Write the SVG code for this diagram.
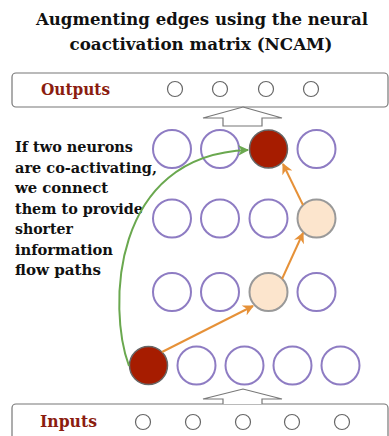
<svg xmlns="http://www.w3.org/2000/svg" width="389" height="436" viewBox="0 0 389 436">
<defs>
<style>
.title{font-family:"DejaVu Serif","Liberation Serif",serif;font-weight:bold;font-size:17px;fill:#111;text-anchor:middle}
.body{font-family:"DejaVu Serif","Liberation Serif",serif;font-weight:bold;font-size:15.5px;fill:#111}
.lab{font-family:"DejaVu Serif","Liberation Serif",serif;font-weight:bold;font-size:16px;fill:#8b1d10}
.box{fill:#fff;stroke:#777;stroke-width:1.2}
.io{fill:#fff;stroke:#666;stroke-width:1.2}
.n{fill:#fff;stroke:#8e7cc3;stroke-width:2}
.red{fill:#a61c00;stroke:#666;stroke-width:1.5}
.peach{fill:#fce5cd;stroke:#999;stroke-width:2}
.blk{fill:#fff;stroke:#777;stroke-width:1.2}
.or{fill:none;stroke:#e69138;stroke-width:2}
.gr{fill:none;stroke:#6aa84f;stroke-width:2}
</style>
<marker id="ao" viewBox="0 0 10 10" refX="9" refY="5" markerWidth="5.5" markerHeight="5.5" orient="auto" markerUnits="strokeWidth"><path d="M0,0 L10,5 L0,10 L3,5 z" fill="#e69138"/></marker>
<marker id="ag" viewBox="0 0 10 10" refX="9" refY="5" markerWidth="5.5" markerHeight="5.5" orient="auto" markerUnits="strokeWidth"><path d="M0,0 L10,5 L0,10 L3,5 z" fill="#6aa84f"/></marker>
</defs>
<rect width="389" height="436" fill="#fff"/>
<g id="title">
<text class="title" x="202" y="25" textLength="332" lengthAdjust="spacingAndGlyphs">Augmenting edges using the neural</text>
<text class="title" x="201" y="50" textLength="263" lengthAdjust="spacingAndGlyphs">coactivation matrix (NCAM)</text>
</g>
<g id="outputs">
<rect class="box" x="12" y="73" width="376" height="34" rx="4"/>
<text class="lab" x="41" y="95" textLength="69" lengthAdjust="spacingAndGlyphs">Outputs</text>
<circle class="io" cx="175" cy="89" r="7.5"/>
<circle class="io" cx="220" cy="89" r="7.5"/>
<circle class="io" cx="266" cy="89" r="7.5"/>
<circle class="io" cx="311" cy="89" r="7.5"/>
</g>
<g id="inputs">
<rect class="box" x="12" y="404" width="376" height="50" rx="4"/>
<text class="lab" x="40" y="427" textLength="57" lengthAdjust="spacingAndGlyphs">Inputs</text>
<circle class="io" cx="143" cy="422" r="7.5"/>
<circle class="io" cx="193" cy="422" r="7.5"/>
<circle class="io" cx="243" cy="422" r="7.5"/>
<circle class="io" cx="292" cy="422" r="7.5"/>
<circle class="io" cx="342" cy="422" r="7.5"/>
</g>
<g id="flow-arrows">
<polygon class="blk" points="243,107 282,118 262,118 262,126 223,126 223,118 203,118"/>
<polyline class="blk" points="223,404 223,399 203,399 243,389 282,399 262,399 262,404"/>
</g>
<g id="caption">
<text class="body" x="15" y="152" textLength="118" lengthAdjust="spacingAndGlyphs">If two neurons</text>
<text class="body" x="15" y="172.5" textLength="142" lengthAdjust="spacingAndGlyphs">are co-activating,</text>
<text class="body" x="15" y="193" textLength="93" lengthAdjust="spacingAndGlyphs">we connect</text>
<text class="body" x="15" y="213.5" textLength="128" lengthAdjust="spacingAndGlyphs">them to provide</text>
<text class="body" x="15" y="234" textLength="58" lengthAdjust="spacingAndGlyphs">shorter</text>
<text class="body" x="15" y="254.5" textLength="98" lengthAdjust="spacingAndGlyphs">information</text>
<text class="body" x="15" y="275" textLength="86" lengthAdjust="spacingAndGlyphs">flow paths</text>
</g>
<g id="neurons">
<g id="r1"><circle class="n" cx="172" cy="149" r="19"/><circle class="n" cx="220" cy="149" r="19"/><circle class="red" cx="268.5" cy="149" r="19"/><circle class="n" cx="316.5" cy="149" r="19"/></g>
<g id="r2"><circle class="n" cx="172" cy="218.5" r="19"/><circle class="n" cx="220" cy="218.5" r="19"/><circle class="n" cx="268.5" cy="218.5" r="19"/><circle class="peach" cx="316.5" cy="218.5" r="19"/></g>
<g id="r3"><circle class="n" cx="172" cy="292" r="19"/><circle class="n" cx="220" cy="292" r="19"/><circle class="peach" cx="268.5" cy="292" r="19"/><circle class="n" cx="316.5" cy="292" r="19"/></g>
<g id="r4"><circle class="red" cx="148.5" cy="365.5" r="19"/><circle class="n" cx="196.5" cy="365.5" r="19"/><circle class="n" cx="244.5" cy="365.5" r="19"/><circle class="n" cx="292.5" cy="365.5" r="19"/><circle class="n" cx="340.5" cy="365.5" r="19"/></g>
</g>
<g id="connectors">
<path class="or" d="M162,352 L253,306" marker-end="url(#ao)"/>
<path class="or" d="M282,279 L303,233" marker-end="url(#ao)"/>
<path class="or" d="M303,205 L283,164" marker-end="url(#ao)"/>
<path class="gr" d="M129,366 C108,310 110,155 248,150" marker-end="url(#ag)"/>
</g>
</svg>
